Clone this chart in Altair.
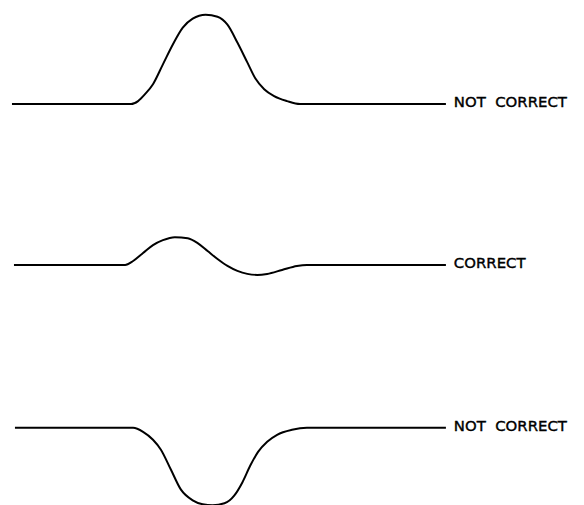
import altair as alt
import pandas as pd

# Three traces: time (horizontal) and deflection (vertical, up positive)
top_t = [8, 128, 135, 142, 150, 160, 170, 180, 190, 203, 215, 225, 235, 245, 253, 262, 272, 285, 298, 445]
top_v = [0, 0, 3, 10, 20, 40, 60, 77, 86, 90, 88, 80, 62, 42, 26, 15, 8, 3, 0, 0]

mid_t = [10, 122, 130, 140, 150, 160, 172, 185, 195, 205, 215, 225, 235, 245, 255, 265, 280, 295, 305, 445]
mid_v = [0, 0, 4, 12, 20, 25, 28, 27, 22, 14, 6, -1, -6, -9, -10, -9, -5, -1, 0, 0]

bot_t = [11, 130, 140, 150, 158, 168, 178, 190, 200, 210, 222, 232, 240, 248, 256, 265, 275, 290, 305, 445]
bot_v = [0, 0, -4, -12, -22, -42, -62, -73, -77, -78, -76, -68, -55, -38, -24, -14, -7, -2, 0, 0]

labels = ["NOT\u00a0\u00a0CORRECT", "CORRECT", "NOT\u00a0\u00a0CORRECT"]
baselines = [408, 246, 82]
label_t = [453, 453, 453]

rows = []
for i, (ts, vs) in enumerate([(top_t, top_v), (mid_t, mid_v), (bot_t, bot_v)]):
    for k, (t, v) in enumerate(zip(ts, vs)):
        rows.append({"trace": i, "order": k, "t": t, "y": baselines[i] + v})
df = pd.DataFrame(rows)

lab = pd.DataFrame({"trace": [0, 1, 2], "t": label_t, "y": baselines, "text": labels})

xs = alt.Scale(domain=[8, 576], nice=False, zero=False)
ys = alt.Scale(domain=[8, 497], nice=False, zero=False)

lines = alt.Chart(df).mark_line(color="black", strokeWidth=2, interpolate="monotone", clip=False).encode(
    x=alt.X("t:Q", scale=xs, axis=None),
    y=alt.Y("y:Q", scale=ys, axis=None),
    detail="trace:N",
    order="order:Q",
)

text = alt.Chart(lab).mark_text(align="left", baseline="middle", font="DejaVu Sans", dy=-2,
                                 fontSize=15, color="black", stroke="black", strokeWidth=0.4).encode(
    x=alt.X("t:Q", scale=xs, axis=None),
    y=alt.Y("y:Q", scale=ys, axis=None),
    text="text:N",
)

chart = alt.layer(lines, text).properties(width=568, height=489, padding=0).configure_view(stroke=None)
chart.save("out.html", embed_options={"renderer": "svg", "actions": False})
